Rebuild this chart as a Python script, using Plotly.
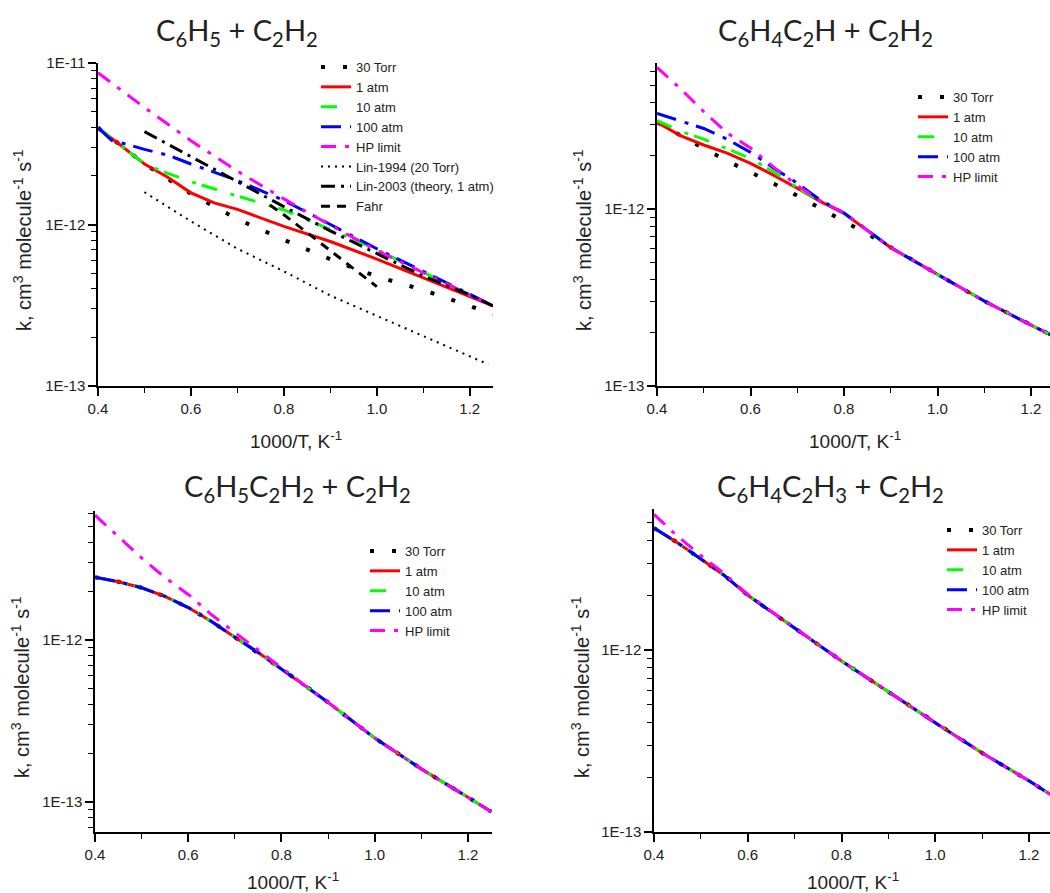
import plotly.graph_objects as go

W, H = 1050, 893

# ---------------- data ----------------
# Panel 1: C6H5 + C2H2
p1_x_30torr = [0.4, 0.5, 0.6, 0.65, 0.7, 0.8, 0.9, 1.0, 1.1, 1.2, 1.25]
p1_k_30torr = [3.98e-12, 2.37e-12, 1.55e-12, 1.30e-12, 1.08e-12, 8.04e-13, 6.1e-13, 4.76e-13, 3.93e-13, 3.13e-13, 2.77e-13]
p1_x_1atm = [0.4, 0.45, 0.5, 0.55, 0.6, 0.65, 0.7, 0.8, 0.9, 1.0, 1.1, 1.2, 1.25]
p1_k_1atm = [3.98e-12, 3.09e-12, 2.37e-12, 1.96e-12, 1.57e-12, 1.36e-12, 1.24e-12, 9.73e-13, 7.85e-13, 6.11e-13, 4.68e-13, 3.57e-13, 3.13e-13]
p1_x_10atm = [0.4, 0.45, 0.5, 0.55, 0.6, 0.7, 0.8, 0.9, 1.0, 1.1, 1.2, 1.25]
p1_k_10atm = [3.98e-12, 3.09e-12, 2.37e-12, 2.07e-12, 1.84e-12, 1.50e-12, 1.23e-12, 9.33e-13, 7.0e-13, 5.05e-13, 3.68e-13, 3.14e-13]
p1_x_100atm = [0.4, 0.43, 0.47, 0.5, 0.55, 0.6, 0.7, 0.8, 0.9, 1.0, 1.1, 1.2, 1.25]
p1_k_100atm = [3.98e-12, 3.31e-12, 3.09e-12, 2.92e-12, 2.69e-12, 2.37e-12, 1.87e-12, 1.41e-12, 1.0e-12, 7.08e-13, 5.13e-13, 3.68e-13, 3.14e-13]
p1_x_hp = [0.4, 0.5, 0.6, 0.7, 0.8, 0.9, 1.0, 1.1, 1.2, 1.25]
p1_k_hp = [8.7e-12, 5.3e-12, 3.3e-12, 2.14e-12, 1.44e-12, 9.9e-13, 6.9e-13, 5.05e-13, 3.7e-13, 3.13e-13]
p1_x_lin1994 = [0.5, 0.6, 0.7, 0.8, 0.9, 1.0, 1.1, 1.2, 1.24]
p1_k_lin1994 = [1.585e-12, 1.047e-12, 7.08e-13, 5.13e-13, 3.63e-13, 2.72e-13, 2.03e-13, 1.53e-13, 1.36e-13]
p1_x_lin2003 = [0.5, 0.6, 0.7, 0.8, 0.9, 1.0, 1.1, 1.2, 1.25]
p1_k_lin2003 = [3.76e-12, 2.63e-12, 1.84e-12, 1.29e-12, 9.12e-13, 6.64e-13, 4.79e-13, 3.67e-13, 3.13e-13]
p1_x_fahr = [0.77, 0.8, 0.85, 0.9, 0.95, 1.0]
p1_k_fahr = [1.32e-12, 1.15e-12, 8.91e-13, 6.92e-13, 5.31e-13, 4.12e-13]

# Panel 2: C6H4C2H + C2H2
p2_x = [0.4, 0.45, 0.5, 0.55, 0.6, 0.65, 0.7, 0.75, 0.8, 0.85, 0.9, 1.0, 1.1, 1.2, 1.25]
p2_k_30torr = [3.09e-12, 2.60e-12, 2.20e-12, 1.87e-12, 1.62e-12, 1.39e-12, 1.19e-12, 1.0e-12, 8.51e-13, 7.24e-13, 6.05e-13, 4.27e-13, 3.02e-13, 2.21e-13, 1.9e-13]
p2_k_1atm = [3.09e-12, 2.60e-12, 2.30e-12, 2.07e-12, 1.81e-12, 1.55e-12, 1.31e-12, 1.10e-12, 9.45e-13, 7.6e-13, 6.05e-13, 4.27e-13, 3.02e-13, 2.21e-13, 1.9e-13]
p2_k_10atm = [3.16e-12, 2.75e-12, 2.48e-12, 2.19e-12, 1.93e-12, 1.62e-12, 1.32e-12, 1.11e-12, 9.5e-13, 7.6e-13, 6.05e-13, 4.27e-13, 3.02e-13, 2.21e-13, 1.9e-13]
p2_k_100atm = [3.47e-12, 3.16e-12, 2.85e-12, 2.48e-12, 2.09e-12, 1.70e-12, 1.40e-12, 1.12e-12, 9.5e-13, 7.6e-13, 6.05e-13, 4.27e-13, 3.02e-13, 2.21e-13, 1.9e-13]
p2_k_hp = [6.31e-12, 4.79e-12, 3.55e-12, 2.69e-12, 2.21e-12, 1.72e-12, 1.36e-12, 1.11e-12, 9.5e-13, 7.6e-13, 6.05e-13, 4.27e-13, 3.02e-13, 2.21e-13, 1.9e-13]

# Panel 3: C6H5C2H2 + C2H2
p3_x = [0.4, 0.45, 0.5, 0.55, 0.6, 0.65, 0.7, 0.75, 0.8, 0.85, 0.9, 1.0, 1.1, 1.2, 1.25]
p3_k_30torr = [2.44e-12, 2.29e-12, 2.10e-12, 1.86e-12, 1.585e-12, 1.30e-12, 1.04e-12, 8.36e-13, 6.61e-13, 5.25e-13, 4.12e-13, 2.48e-13, 1.60e-13, 1.07e-13, 8.71e-14]
p3_k_1atm = [2.44e-12, 2.29e-12, 2.10e-12, 1.86e-12, 1.585e-12, 1.30e-12, 1.04e-12, 8.36e-13, 6.61e-13, 5.25e-13, 4.12e-13, 2.48e-13, 1.60e-13, 1.07e-13, 8.71e-14]
p3_k_10atm = [2.44e-12, 2.29e-12, 2.10e-12, 1.86e-12, 1.585e-12, 1.30e-12, 1.04e-12, 8.36e-13, 6.61e-13, 5.25e-13, 4.12e-13, 2.48e-13, 1.60e-13, 1.07e-13, 8.71e-14]
p3_k_100atm = [2.44e-12, 2.29e-12, 2.10e-12, 1.86e-12, 1.585e-12, 1.30e-12, 1.04e-12, 8.36e-13, 6.61e-13, 5.25e-13, 4.12e-13, 2.48e-13, 1.60e-13, 1.07e-13, 8.71e-14]
p3_k_hp = [5.89e-12, 4.32e-12, 3.21e-12, 2.43e-12, 1.91e-12, 1.43e-12, 1.11e-12, 8.61e-13, 6.76e-13, 5.25e-13, 4.12e-13, 2.48e-13, 1.60e-13, 1.07e-13, 8.71e-14]

# Panel 4: C6H4C2H3 + C2H2
p4_x = [0.4, 0.45, 0.5, 0.55, 0.6, 0.7, 0.8, 0.9, 1.0, 1.1, 1.2, 1.25]
p4_k_30torr = [4.68e-12, 3.89e-12, 3.16e-12, 2.57e-12, 2.0e-12, 1.32e-12, 8.71e-13, 5.89e-13, 3.98e-13, 2.72e-13, 1.91e-13, 1.58e-13]
p4_k_1atm = [4.68e-12, 3.89e-12, 3.16e-12, 2.57e-12, 2.0e-12, 1.32e-12, 8.71e-13, 5.89e-13, 3.98e-13, 2.72e-13, 1.91e-13, 1.58e-13]
p4_k_10atm = [4.68e-12, 3.89e-12, 3.16e-12, 2.57e-12, 2.0e-12, 1.32e-12, 8.71e-13, 5.89e-13, 3.98e-13, 2.72e-13, 1.91e-13, 1.58e-13]
p4_k_100atm = [4.68e-12, 3.89e-12, 3.16e-12, 2.57e-12, 2.0e-12, 1.32e-12, 8.71e-13, 5.89e-13, 3.98e-13, 2.72e-13, 1.91e-13, 1.58e-13]
p4_k_hp = [5.56e-12, 4.22e-12, 3.31e-12, 2.63e-12, 2.02e-12, 1.32e-12, 8.71e-13, 5.89e-13, 3.98e-13, 2.72e-13, 1.91e-13, 1.58e-13]

titles = ["C<sub>6</sub>H<sub>5</sub> + C<sub>2</sub>H<sub>2</sub>",
          "C<sub>6</sub>H<sub>4</sub>C<sub>2</sub>H + C<sub>2</sub>H<sub>2</sub>",
          "C<sub>6</sub>H<sub>5</sub>C<sub>2</sub>H<sub>2</sub> + C<sub>2</sub>H<sub>2</sub>",
          "C<sub>6</sub>H<sub>4</sub>C<sub>2</sub>H<sub>3</sub> + C<sub>2</sub>H<sub>2</sub>"]
x_title = "1000/T, K<sup>-1</sup>"
y_title = "k, cm<sup>3</sup> molecule<sup>-1</sup> s<sup>-1</sup>"
x_tickvals = [0.4, 0.6, 0.8, 1.0, 1.2]
x_ticktext = ["0.4", "0.6", "0.8", "1.0", "1.2"]
x_minor = [0.5, 0.7, 0.9, 1.1]
y_tickvals = [1e-13, 1e-12, 1e-11]
y_ticktext = ["1E-13", "1E-12", "1E-11"]
y_minor = [m * 10.0 ** e for e in (-14, -13, -12) for m in range(2, 10)]

# ---------------- styles ----------------
STY = {
    "30 Torr": dict(color="black", width=4, dash="4px,18px"),
    "1 atm": dict(color="#ff0000", width=3, dash="solid"),
    "10 atm": dict(color="#00ff00", width=3, dash="16px,14px,4px,6px"),
    "100 atm": dict(color="#0000ff", width=3, dash="20px,9px,4px,8px"),
    "HP limit": dict(color="#ff00ff", width=3, dash="15px,9px,4px,9px"),
    "Lin-1994 (20 Torr)": dict(color="black", width=2, dash="2px,5px"),
    "Lin-2003 (theory, 1 atm)": dict(color="black", width=3, dash="14px,6px,3px,6px"),
    "Fahr": dict(color="black", width=3, dash="9px,7px"),
}

FONT = "Liberation Sans, Arial, sans-serif"
TXT = "#222222"

fig = go.Figure()

panels = [
    dict(series=[("30 Torr", p1_x_30torr, p1_k_30torr), ("1 atm", p1_x_1atm, p1_k_1atm),
                 ("10 atm", p1_x_10atm, p1_k_10atm), ("100 atm", p1_x_100atm, p1_k_100atm),
                 ("HP limit", p1_x_hp, p1_k_hp), ("Lin-1994 (20 Torr)", p1_x_lin1994, p1_k_lin1994),
                 ("Lin-2003 (theory, 1 atm)", p1_x_lin2003, p1_k_lin2003), ("Fahr", p1_x_fahr, p1_k_fahr)],
         px=(98, 493), py=(63, 386), xr=[0.4, 1.25], yr=[-13, -11],
         title=(237, 31), leg=(316, 52), xt=(296, 426), yt=(22, 240)),
    dict(series=[("30 Torr", p2_x, p2_k_30torr), ("1 atm", p2_x, p2_k_1atm),
                 ("10 atm", p2_x, p2_k_10atm), ("100 atm", p2_x, p2_k_100atm),
                 ("HP limit", p2_x, p2_k_hp)],
         px=(657, 1050), py=(63, 386), xr=[0.4, 1.2406], yr=[-13, -11.175],
         title=(825, 31), leg=(913, 82), xt=(855, 426), yt=(582, 240)),
    dict(series=[("30 Torr", p3_x, p3_k_30torr), ("1 atm", p3_x, p3_k_1atm),
                 ("10 atm", p3_x, p3_k_10atm), ("100 atm", p3_x, p3_k_100atm),
                 ("HP limit", p3_x, p3_k_hp)],
         px=(95, 492), py=(511, 832), xr=[0.4, 1.2515], yr=[-13.185, -11.204],
         title=(297, 488), leg=(365, 536), xt=(293, 867), yt=(20, 687)),
    dict(series=[("30 Torr", p4_x, p4_k_30torr), ("1 atm", p4_x, p4_k_1atm),
                 ("10 atm", p4_x, p4_k_10atm), ("100 atm", p4_x, p4_k_100atm),
                 ("HP limit", p4_x, p4_k_hp)],
         px=(654, 1050), py=(509, 832), xr=[0.4, 1.2448], yr=[-13, -11.225],
         title=(830, 488), leg=(942, 515), xt=(853, 867), yt=(580, 687)),
]

annotations = []
layout_axes = {}
legends = {}
for i, p in enumerate(panels, start=1):
    sfx = "" if i == 1 else str(i)
    legname = "legend" + sfx
    for name, xs, ks in p["series"]:
        fig.add_trace(go.Scatter(
            x=xs, y=ks, mode="lines", name=name, line=STY[name],
            xaxis="x" + sfx, yaxis="y" + sfx, legend=legname, showlegend=True))
    xdom = [p["px"][0] / W, p["px"][1] / W]
    ydom = [1 - p["py"][1] / H, 1 - p["py"][0] / H]
    layout_axes["xaxis" + sfx] = dict(
        domain=xdom, range=p["xr"], anchor="y" + sfx, showline=True, linecolor="black", linewidth=1.5,
        ticks="outside", ticklen=8, tickwidth=1.5, tickcolor="black",
        tickvals=x_tickvals, ticktext=x_ticktext, showgrid=False, zeroline=False,
        tickfont=dict(family=FONT, size=15, color=TXT),
        minor=dict(tickvals=x_minor, ticks="outside", ticklen=5, tickwidth=1.2, tickcolor="black", showgrid=False),
        automargin=False, fixedrange=True)
    layout_axes["yaxis" + sfx] = dict(
        domain=ydom, type="log", range=p["yr"], anchor="x" + sfx, showline=True, linecolor="black",
        linewidth=1.5, ticks="outside", ticklen=8, tickwidth=1.5, tickcolor="black",
        tickvals=y_tickvals, ticktext=y_ticktext, showgrid=False, zeroline=False,
        tickfont=dict(family=FONT, size=15, color=TXT),
        minor=dict(tickvals=y_minor, ticks="outside", ticklen=5, tickwidth=1.2, tickcolor="black", showgrid=False),
        automargin=False, fixedrange=True)
    legends[legname] = dict(
        x=p["leg"][0] / W, y=1 - p["leg"][1] / H, xanchor="left", yanchor="top",
        font=dict(family=FONT, size=13, color=TXT), bgcolor="rgba(0,0,0,0)", borderwidth=0,
        itemwidth=30, tracegroupgap=0)
    annotations.append(dict(
        text=titles[i - 1], x=p["title"][0] / W, y=1 - p["title"][1] / H,
        xref="paper", yref="paper", xanchor="center", yanchor="middle", showarrow=False,
        font=dict(family="Lato, Open Sans, sans-serif", size=29, color=TXT)))
    annotations.append(dict(
        text=x_title, x=p["xt"][0] / W, y=1 - p["xt"][1] / H,
        xref="paper", yref="paper", xanchor="center", yanchor="top", showarrow=False,
        font=dict(family=FONT, size=19, color=TXT)))
    annotations.append(dict(
        text=y_title, x=p["yt"][0] / W, y=1 - p["yt"][1] / H, textangle=-90,
        xref="paper", yref="paper", xanchor="center", yanchor="middle", showarrow=False,
        font=dict(family=FONT, size=20, color=TXT)))

fig.update_layout(
    template="none", width=W, height=H, margin=dict(l=0, r=0, t=0, b=0),
    paper_bgcolor="white", plot_bgcolor="white", annotations=annotations,
    **layout_axes, **legends)

fig.write_html("out.html", config={"displayModeBar": False},
               post_script=["document.body.style.margin='0';"])
